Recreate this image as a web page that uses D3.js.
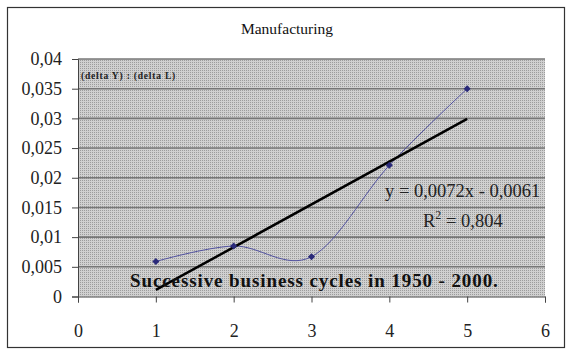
<!DOCTYPE html>
<html><head><meta charset="utf-8">
<script src="https://cdn.jsdelivr.net/npm/d3@7"></script>
<style>body{margin:0;background:#fff}svg{display:block}</style>
</head><body>
<script>
const xs = [1, 2, 3, 4, 5];
const ys = [0.0059, 0.0085, 0.0067, 0.0221, 0.035];
const yTicks = [0, 0.005, 0.01, 0.015, 0.02, 0.025, 0.03, 0.035, 0.04];
const xTicks = [0, 1, 2, 3, 4, 5, 6];
const slope = 0.0072, intercept = -0.0061;
const title = "Manufacturing";
const SERIF = "'Liberation Serif', 'Times New Roman', serif";
const W = 573, H = 355;
const svg = d3.select("body").append("svg").attr("width", W).attr("height", H)
  .style("font-family", SERIF);
const defs = svg.append("defs");
const pat = defs.append("pattern").attr("id","dots").attr("width",2).attr("height",2).attr("patternUnits","userSpaceOnUse");
pat.append("rect").attr("width",2).attr("height",2).attr("fill","#d0d0d0");
pat.append("rect").attr("width",1).attr("height",1).attr("fill","#9c9c9c");

svg.append("rect").attr("x",7.5).attr("y",7.5).attr("width",557).attr("height",340).attr("fill","#fff").attr("stroke","#333").attr("stroke-width",1.2);

const m = {l:78, r:545, t:59, b:296.5};
const x = d3.scaleLinear().domain([0,6]).range([m.l, m.r]);
const y = d3.scaleLinear().domain([0,0.04]).range([m.b, m.t]);

svg.append("rect").attr("x",m.l).attr("y",m.t).attr("width",m.r-m.l).attr("height",m.b-m.t).attr("fill","url(#dots)");

svg.append("g").selectAll("line").data(yTicks.slice(1)).join("line")
  .attr("x1",m.l).attr("x2",m.r).attr("y1",d=>y(d)).attr("y2",d=>y(d))
  .attr("stroke","#777").attr("stroke-width",1.6);

const fmt = d => String(+d.toFixed(3)).replace(".", ",");
const ya = svg.append("g").attr("transform",`translate(${m.l},0)`)
  .call(d3.axisLeft(y).tickValues(yTicks).tickSize(6).tickPadding(10).tickFormat(fmt));
ya.attr("font-family", null).attr("font-size", null);
ya.select(".domain").attr("stroke","#444");
ya.selectAll(".tick line").attr("stroke","#444");
ya.selectAll("text").style("font-size","18px").style("font-family",SERIF).attr("fill","#222");

const xa = svg.append("g").attr("transform",`translate(0,${m.b})`)
  .call(d3.axisBottom(x).tickValues(xTicks).tickSize(6).tickPadding(22).tickFormat(d=>d));
xa.attr("font-family", null).attr("font-size", null);
xa.select(".domain").attr("stroke","#444");
xa.selectAll(".tick line").attr("stroke","#444");
xa.selectAll("text").style("font-size","18px").style("font-family",SERIF).attr("fill","#222");

svg.append("text").attr("x",287).attr("y",34).attr("text-anchor","middle").style("font-size","15.5px").attr("fill","#111").text(title);
svg.append("text").attr("x",81).attr("y",79).style("font-size","9.5px").attr("font-weight","bold").attr("letter-spacing",0.8).attr("fill","#222").text("(delta Y) : (delta L)");

const pts = xs.map((d,i)=>[x(d), y(ys[i])]);
svg.append("path").attr("d", d3.line().curve(d3.curveCardinal.tension(0))(pts))
  .attr("fill","none").attr("stroke","#5050a0").attr("stroke-width",1);

svg.append("line").attr("x1",x(1)).attr("y1",y(slope*1+intercept)).attr("x2",x(5)).attr("y2",y(slope*5+intercept))
  .attr("stroke","#000").attr("stroke-width",2.5);

svg.append("g").selectAll("path").data(pts).join("path")
  .attr("transform",d=>`translate(${d[0]},${d[1]})`)
  .attr("d", d3.symbol(d3.symbolDiamond2, 32)).attr("fill","#2a2a7a");

svg.append("text").attr("x",385).attr("y",197).style("font-size","18.5px").attr("fill","#222").text("y = 0,0072x - 0,0061");
const r = svg.append("text").attr("x",423).attr("y",227).style("font-size","18.5px").attr("fill","#222");
r.append("tspan").text("R");
r.append("tspan").attr("dy",-8).style("font-size","12px").text("2");
r.append("tspan").attr("dy",8).text(" = 0,804");

svg.append("text").attr("x",130).attr("y",287).style("font-size","19px").attr("font-weight","bold").attr("letter-spacing",0.9).attr("fill","#111")
  .text("Successive business cycles in 1950 - 2000.");
</script>
</body></html>
